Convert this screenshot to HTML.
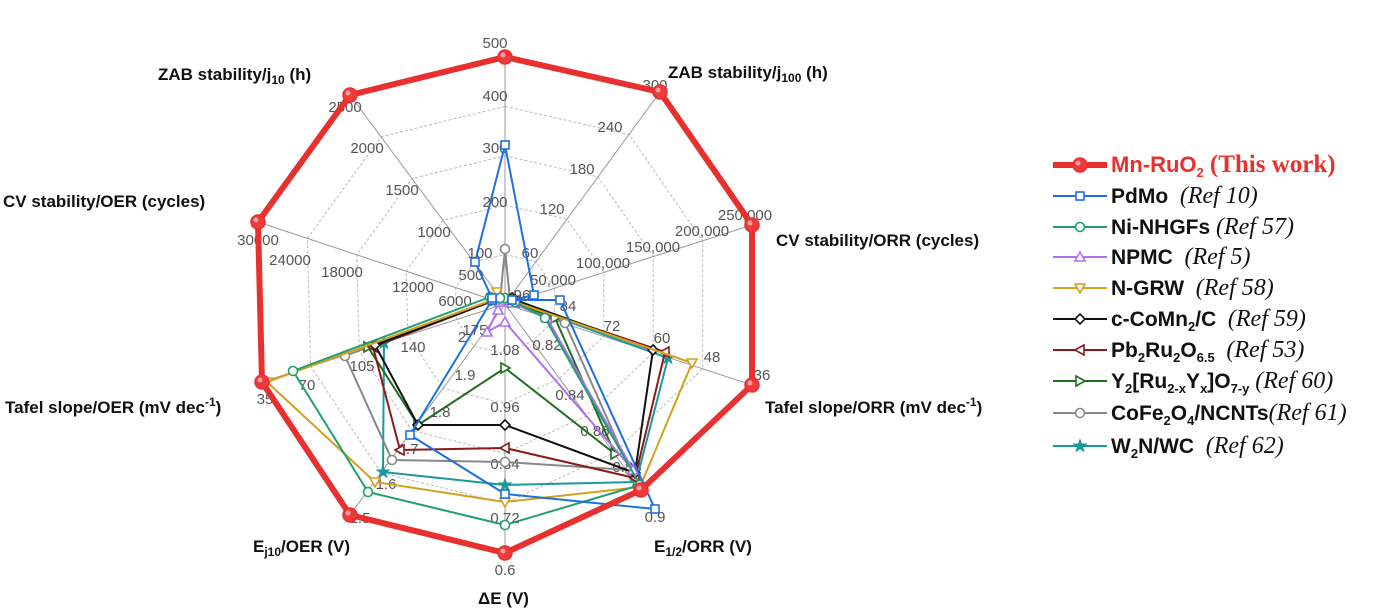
<!DOCTYPE html>
<html><head><meta charset="utf-8"><style>
body{margin:0;background:#fff;}
svg{display:block;}
.t{font-family:"Liberation Sans",Arial,sans-serif;font-size:15px;fill:#555;}
.a{font-family:"Liberation Sans",Arial,sans-serif;font-size:17px;font-weight:bold;fill:#111;}
.l{font-family:"Liberation Sans",Arial,sans-serif;font-size:21px;font-weight:bold;fill:#111;}
.r{font-family:"Liberation Serif","Times New Roman",serif;font-size:24px;font-style:italic;font-weight:normal;fill:#111;}
</style></head><body>
<svg width="1389" height="613" viewBox="0 0 1389 613" xmlns="http://www.w3.org/2000/svg">
<g id="grid" stroke="#aaa" stroke-width="1" fill="none"></g>
<g id="ticks"></g>
<g id="series"></g>
<text class="a" x="158" y="80">ZAB stability/j<tspan font-size="12" baseline-shift="-4">10</tspan> (h)</text>
<text class="a" x="668" y="78">ZAB stability/j<tspan font-size="12" baseline-shift="-4">100</tspan> (h)</text>
<text class="a" x="776" y="246">CV stability/ORR (cycles)</text>
<text class="a" x="765" y="413">Tafel slope/ORR (mV dec<tspan font-size="12" baseline-shift="7">-1</tspan>)</text>
<text class="a" x="654" y="552">E<tspan font-size="12" baseline-shift="-4">1/2</tspan>/ORR (V)</text>
<text class="a" x="478" y="604">ΔE (V)</text>
<text class="a" x="253" y="552">E<tspan font-size="12" baseline-shift="-4">j10</tspan>/OER (V)</text>
<text class="a" x="5" y="413">Tafel slope/OER (mV dec<tspan font-size="12" baseline-shift="7">-1</tspan>)</text>
<text class="a" x="3" y="207">CV stability/OER (cycles)</text>
<g id="legend"></g>
</svg>
<script>
const NS="http://www.w3.org/2000/svg";
const C=[505,304];
const O=[[505,57],[660,92],[752,225],[752,385],[641,490],[505,553],[350,515],[262,382],[258,222],[350,95]];
function el(tag,attrs,parent,text){const e=document.createElementNS(NS,tag);for(const k in attrs)e.setAttribute(k,attrs[k]);if(text!==undefined)e.textContent=text;parent.appendChild(e);return e;}
const g=document.getElementById('grid');
for(let k=1;k<=5;k++){
 const pts=O.map(p=>[C[0]+(p[0]-C[0])*k/5,C[1]+(p[1]-C[1])*k/5].join(',')).join(' ');
 el('polygon',{points:pts,stroke:'#bbb','stroke-dasharray':k<5?'3,2':'none'},g);
}
O.forEach(p=>el('line',{x1:C[0],y1:C[1],x2:p[0],y2:p[1],stroke:'#999'},g));
const tk=document.getElementById('ticks');
const T=[["100",480,258],["200",495,207],["300",495,153],["400",495,101],["500",495,48],
["60",530,258],["120",552,214],["180",582,174],["240",610,132],["300",655,90],
["50,000",553,285],["100,000",603,268],["150,000",653,252],["200,000",702,236],["250,000",745,220],
["96",522,300],["84",568,311],["72",612,331],["60",662,343],["48",712,362],["36",762,380],
["0.82",547,350],["0.84",570,400],["0.86",595,436],["0.88",627,472],["0.9",655,522],
["1.08",505,355],["0.96",505,412],["0.84",505,469],["0.72",505,523],["0.6",505,575],
["2",462,342],["1.9",465,380],["1.8",440,417],["1.7",408,454],["1.6",386,489],["1.5",360,523],
["175",475,335],["140",413,352],["105",362,371],["70",307,390],["35",265,404],
["6000",455,306],["12000",413,292],["18000",342,277],["24000",290,265],["30000",258,245],
["500",471,280],["1000",434,237],["1500",402,195],["2000",367,153],["2500",345,112]];
T.forEach(t=>el('text',{class:'t',x:t[1],y:t[2],'text-anchor':'middle'},tk,t[0]));
const S=[
 {c:'#e8302f',m:'o',w:6,pts:O,big:true},
 {c:'#1f6fe0',m:'s',pts:[[505,145],[534,295],[512,300],[560,300],[655,509],[505,494],[410,435],[492,300],[492,298],[475,262]]},
 {c:'#22a06b',m:'o',pts:[[505,298],[512,300],[515,302],[545,318],[640,485],[505,525],[368,492],[293,371],[490,297],[500,298]]},
 {c:'#b070f0',m:'^',pts:[[505,300],[510,302],[512,303],[547,318],[633,470],[505,322],[487,332],[498,310],[500,302],[503,300]]},
 {c:'#d4a020',m:'v',pts:[[505,300],[510,300],[515,302],[692,363],[640,487],[505,502],[375,482],[267,382],[495,299],[497,292]]},
 {c:'#111',m:'d',pts:[[505,300],[512,298],[515,300],[653,350],[635,473],[505,425],[418,425],[375,345],[495,300],[500,300]]},
 {c:'#8b1a1a',m:'<',pts:[[505,300],[510,300],[515,302],[665,352],[635,478],[505,448],[400,450],[373,347],[495,300],[500,300]]},
 {c:'#1f6e1f',m:'>',pts:[[505,300],[510,300],[513,302],[555,318],[615,454],[505,368],[418,425],[368,347],[495,300],[500,300]]},
 {c:'#888',m:'o',pts:[[505,249],[510,300],[513,302],[565,323],[630,470],[505,462],[392,460],[345,356],[493,300],[500,300]]},
 {c:'#1a9a9a',m:'*',pts:[[505,300],[512,300],[515,302],[668,358],[636,482],[505,485],[383,472],[384,343],[495,300],[500,300]]}
];
const sg=document.getElementById('series');
function marker(m,x,y,c,p,big){
 if(big){el('circle',{cx:x,cy:y,r:7,fill:'#ee3a3a',stroke:'#e8302f','stroke-width':1.5},p);el('circle',{cx:x-2,cy:y-2,r:2.5,fill:'#f7a0a0'},p);return;}
 const a={fill:'#fff',stroke:c,'stroke-width':1.6};
 if(m=='o')el('circle',Object.assign({cx:x,cy:y,r:4.5},a),p);
 else if(m=='s')el('rect',Object.assign({x:x-4,y:y-4,width:8,height:8},a),p);
 else{let pts;
  if(m=='^')pts=[[0,-5],[5,4],[-5,4]];else if(m=='v')pts=[[0,5],[5,-4],[-5,-4]];
  else if(m=='<')pts=[[-5,0],[4,-5],[4,5]];else if(m=='>')pts=[[5,0],[-4,-5],[-4,5]];
  else if(m=='d')pts=[[0,-5],[5,0],[0,5],[-5,0]];
  else{pts=[];for(let i=0;i<10;i++){const r=i%2?2.2:5.5,an=Math.PI*i/5-Math.PI/2;pts.push([r*Math.cos(an),r*Math.sin(an)]);}a.fill=c;}
  el('polygon',Object.assign({points:pts.map(q=>(x+q[0])+','+(y+q[1])).join(' ')},a),p);}
}
for(let i=S.length-1;i>=0;i--){const s=S[i];
 el('polygon',{points:s.pts.map(p=>p.join(',')).join(' '),fill:'none',stroke:s.c,'stroke-width':s.w||2,'stroke-linejoin':'round'},sg);
 s.pts.forEach(p=>marker(s.m,p[0],p[1],s.c,sg,s.big));
}
const lg=document.getElementById('legend');
const refs=["","(Ref 10)","(Ref 57)","(Ref 5)","(Ref 58)","(Ref 59)","(Ref 53)","(Ref 60)","(Ref 61)","(Ref 62)"];
const ys=[165,196,227,257,288,319,350,381,413,446];
const sub=(s)=>'<tspan font-size="13" baseline-shift="-5">'+s+'</tspan>';
ys.forEach((y,i)=>{const s=S[i];
 el('line',{x1:1053,y1:y,x2:1107,y2:y,stroke:s.c,'stroke-width':i==0?6:2},lg);
 marker(s.m,1080,y,s.c,lg,i==0);
 const tx=el('text',{class:'l',x:1111,y:y+7},lg);
 let html;
 const R='<tspan class="r">'+refs[i]+'</tspan>';
 if(i==0){tx.style.fill='#e8302f';tx.style.fontSize='22px';
  html='Mn-RuO'+sub('2')+' <tspan style="font-family:\'Liberation Serif\',serif;fill:#e8302f" font-size="25">(This work)</tspan>';}
 else if(i==1)html='PdMo  '+R;
 else if(i==2)html='Ni-NHGFs '+R;
 else if(i==3)html='NPMC  '+R;
 else if(i==4)html='N-GRW  '+R;
 else if(i==5)html='c-CoMn'+sub('2')+'/C  '+R;
 else if(i==6)html='Pb'+sub('2')+'Ru'+sub('2')+'O'+sub('6.5')+'  '+R;
 else if(i==7)html='Y'+sub('2')+'[Ru'+sub('2-x')+'Y'+sub('x')+']O'+sub('7-y')+' '+R;
 else if(i==8)html='CoFe'+sub('2')+'O'+sub('4')+'/NCNTs'+R;
 else html='W'+sub('2')+'N/WC  '+R;
 tx.setAttribute('xml:space','preserve');
 tx.style.whiteSpace='pre';
 tx.innerHTML=html;
});
</script>
</body></html>
